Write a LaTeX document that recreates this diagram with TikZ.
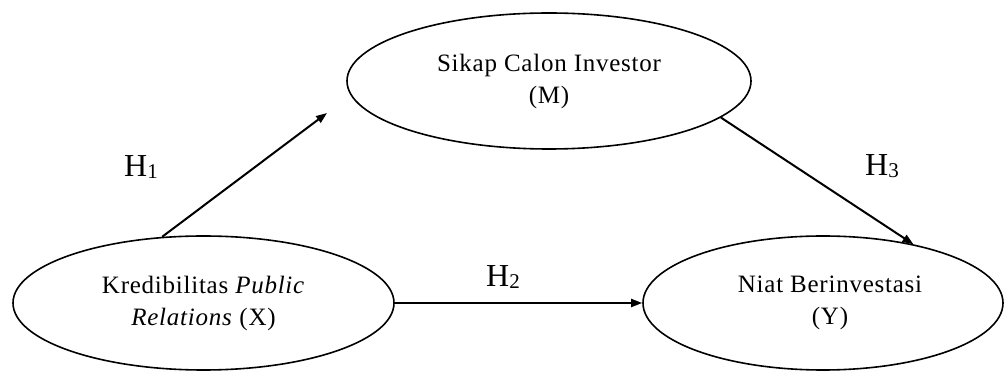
\documentclass[tikz,border=0pt]{standalone}
\usepackage{fontspec}
\setmainfont{Liberation Serif}
\newfontfamily\spaced[LetterSpace=3]{Liberation Serif}
\usetikzlibrary{shapes.geometric,arrows.meta}
\tikzset{
  var/.style={ellipse, draw, line width=1.6pt, inner sep=0pt, align=center,
    font=\spaced\fontsize{25}{32}\selectfont},
  path/.style={line width=2pt, -{Triangle[length=11pt,width=8pt]}},
  hlab/.style={font=\fontsize{32}{32}\selectfont, inner sep=0pt}
}
\newcommand{\hsub}[1]{H\raisebox{-2pt}{\fontsize{21}{21}\selectfont #1}}
\begin{document}
\begin{tikzpicture}[x=1pt,y=-1pt]
\useasboundingbox (0,0) rectangle (1005,371);
\node[var, minimum width=404pt, minimum height=136pt] (M) at (549,81)
  {Sikap Calon Investor\\(M)};
\node[var, minimum width=381pt, minimum height=134pt] (X) at (203.5,303)
  {Kredibilitas \textit{Public}\\\textit{Relations} (X)};
\node[var, minimum width=360pt, minimum height=134pt] (Y) at (823,303)
  {\hspace*{14pt}Niat Berinvestasi\\\hspace*{14pt}(Y)};
\coordinate (h1end) at (327,113);
\draw[path] (X.122) -- (h1end);
\draw[path] (X.east) -- (Y.west);
\draw[path] (M.-12) -- (Y.33);
\node[hlab] (H1) at (141,167) {\hsub{1}};
\node[hlab] (H2) at (503,277) {\hsub{2}};
\node[hlab] (H3) at (882,166) {\hsub{3}};
\end{tikzpicture}
\end{document}
